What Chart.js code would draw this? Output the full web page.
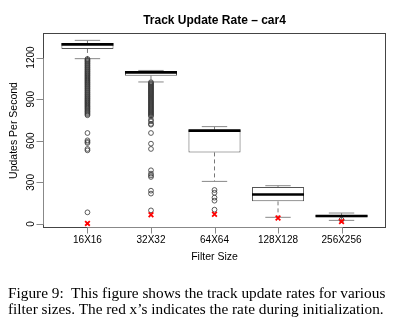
<!DOCTYPE html>
<html>
<head>
<meta charset="utf-8">
<script src="https://cdn.jsdelivr.net/npm/chart.js@4/dist/chart.umd.min.js"></script>
<style>
  html,body{margin:0;padding:0;background:#fff;}
  #wrap{position:relative;width:404px;height:331px;overflow:hidden;}
  #c{position:absolute;left:0;top:0;}
  #cap{position:absolute;left:8px;top:285px;width:396px;font-family:"Liberation Serif","Times New Roman",serif;font-size:15.3px;line-height:16px;color:#000;white-space:nowrap;}
</style>
</head>
<body>
<div id="wrap">
<canvas id="c" width="404" height="331"></canvas>
<div id="cap">Figure 9:&nbsp; This figure shows the track update rates for various<br>filter sizes. The red x’s indicates the rate during initialization.</div>
</div>
<script>
const chartTitle = 'Track Update Rate \u2013 car4';
const xTitle = 'Filter Size';
const yTitle = 'Updates Per Second';
const categories = ['16X16','32X32','64X64','128X128','256X256'];
const yTicks = [0,300,600,900,1200];

const q1          = [1262,1069,516,163,48];
const median      = [1295,1093,673,213,58];
const q3          = [1305,1100,680,267,65];
const whiskerLow  = [1192,1024,307,48,26];
const whiskerHigh = [1324,1107,702,276,79];
const initRate    = [4,67,70,43,18];

const outliers16 = [1190,1183,1176,1169,1161,1154,1146,1139,1131,1124,1116,1109,1101,1094,1086,1079,1071,1064,1056,1049,1041,1034,1026,1019,1011,1004,996,989,981,974,966,959,951,944,936,929,921,914,906,899,891,884,876,869,861,853,846,838,831,823,815,808,800,792,784,656,603,592,584,541,531,84];
const outliers32 = [1022,1015,1008,1001,994,987,980,973,966,959,952,945,938,931,924,917,910,903,896,889,882,875,868,861,854,847,840,833,826,819,812,805,798,791,784,776,752,740,722,716,656,579,541,387,363,350,339,240,219,98];
const outliers64 = [245,225,190,168,103];
const outliers128 = [];
const outliers256 = [31];
const outlierSets = [outliers16,outliers32,outliers64,outliers128,outliers256];

const font = '"Liberation Sans", Arial, Helvetica, sans-serif';

const boxData = categories.map((c,i)=>({x:i+1,y:[q1[i],q3[i]]}));
const medData = categories.map((c,i)=>({x:i+1,y:median[i]}));
const capHi = categories.map((c,i)=>({x:i+1,y:whiskerHigh[i]}));
const capLo = categories.map((c,i)=>({x:i+1,y:whiskerLow[i]}));
const whiskData = [];
categories.forEach((c,i)=>{
  whiskData.push({x:i+1,y:q3[i]},{x:i+1,y:whiskerHigh[i]},{x:i+1,y:null});
  whiskData.push({x:i+1,y:q1[i]},{x:i+1,y:whiskerLow[i]},{x:i+1,y:null});
});
const outData = [];
outlierSets.forEach((s,i)=>s.forEach(v=>outData.push({x:i+1,y:v})));
const initData = categories.map((c,i)=>({x:i+1,y:initRate[i]}));

const rAxes = {
  id:'rAxes',
  afterDraw(chart){
    const {ctx, chartArea:a, scales:{x,y}} = chart;
    ctx.save();
    ctx.strokeStyle='#444'; ctx.lineWidth=1;
    ctx.strokeRect(Math.round(a.left)+0.5, Math.round(a.top)+0.5, Math.round(a.right-a.left)-1, Math.round(a.bottom-a.top)-1);
    ctx.strokeStyle='#888';
    const lx = Math.round(a.left)+0.5;
    ctx.beginPath();
    ctx.moveTo(lx, Math.round(y.getPixelForValue(yTicks[0]))+0.5);
    ctx.lineTo(lx, Math.round(y.getPixelForValue(yTicks[yTicks.length-1]))+0.5);
    yTicks.forEach(t=>{
      const py = Math.round(y.getPixelForValue(t))+0.5;
      ctx.moveTo(lx-7, py); ctx.lineTo(lx, py);
    });
    ctx.stroke();
    ctx.fillStyle='#000';
    ctx.font='10px '+font;
    ctx.textAlign='center'; ctx.textBaseline='middle';
    yTicks.forEach(t=>{
      const py = y.getPixelForValue(t);
      ctx.save(); ctx.translate(31, py); ctx.rotate(-Math.PI/2);
      ctx.fillText(String(t),0,0); ctx.restore();
    });
    const by = Math.round(a.bottom)-0.5;
    ctx.beginPath();
    ctx.moveTo(Math.round(x.getPixelForValue(1))+0.5, by);
    ctx.lineTo(Math.round(x.getPixelForValue(categories.length))+0.5, by);
    categories.forEach((c,i)=>{
      const px = Math.round(x.getPixelForValue(i+1))+0.5;
      ctx.moveTo(px, by); ctx.lineTo(px, by+6);
    });
    ctx.stroke();
    categories.forEach((c,i)=>{
      ctx.fillText(c, x.getPixelForValue(i+1), 240);
    });
    const cx = (a.left+a.right)/2, cy=(a.top+a.bottom)/2;
    ctx.font='10.5px '+font;
    ctx.fillText(xTitle, cx, 257);
    ctx.save(); ctx.translate(14, cy); ctx.rotate(-Math.PI/2);
    ctx.fillText(yTitle,0,0); ctx.restore();
    ctx.font='bold 12px '+font;
    ctx.fillText(chartTitle, cx, 20.5);
    ctx.restore();
  }
};

new Chart(document.getElementById('c'), {
  type:'bar',
  data:{
    datasets:[
      {type:'line', data:whiskData, borderColor:'#777', borderWidth:1, borderDash:[4,3], pointRadius:0, spanGaps:false, order:5},
      {type:'bar', data:boxData, backgroundColor:'#fff', borderColor:'#555', borderWidth:1, borderSkipped:false, barPercentage:0.82, categoryPercentage:1, order:4},
      {type:'line', data:medData, showLine:false, pointStyle:'line', pointRadius:26, borderColor:'#000', borderWidth:2.6, order:3},
      {type:'line', data:capHi, showLine:false, pointStyle:'line', pointRadius:12.7, borderColor:'#888', borderWidth:1, order:3},
      {type:'line', data:capLo, showLine:false, pointStyle:'line', pointRadius:12.7, borderColor:'#888', borderWidth:1, order:3},
      {type:'line', data:outData, showLine:false, pointStyle:'circle', pointRadius:2.4, borderColor:'#333', backgroundColor:'rgba(0,0,0,0)', borderWidth:0.8, order:2},
      {type:'line', data:initData, showLine:false, pointStyle:'crossRot', pointRadius:3.3, borderColor:'#f00', borderWidth:1.8, order:1}
    ]
  },
  options:{
    responsive:false, animation:false, devicePixelRatio:1,
    layout:{autoPadding:false, padding:{left:43,top:33,right:18,bottom:103}},
    plugins:{legend:{display:false}, tooltip:{enabled:false}, title:{display:false}},
    scales:{
      x:{type:'linear', min:0.3, max:5.7, offset:false, display:false,
         afterBuildTicks:(s)=>{ s.ticks = categories.map((c,i)=>({value:i+1})); }},
      y:{type:'linear', min:-29, max:1377, display:false}
    }
  },
  plugins:[rAxes]
});
</script>
</body>
</html>
